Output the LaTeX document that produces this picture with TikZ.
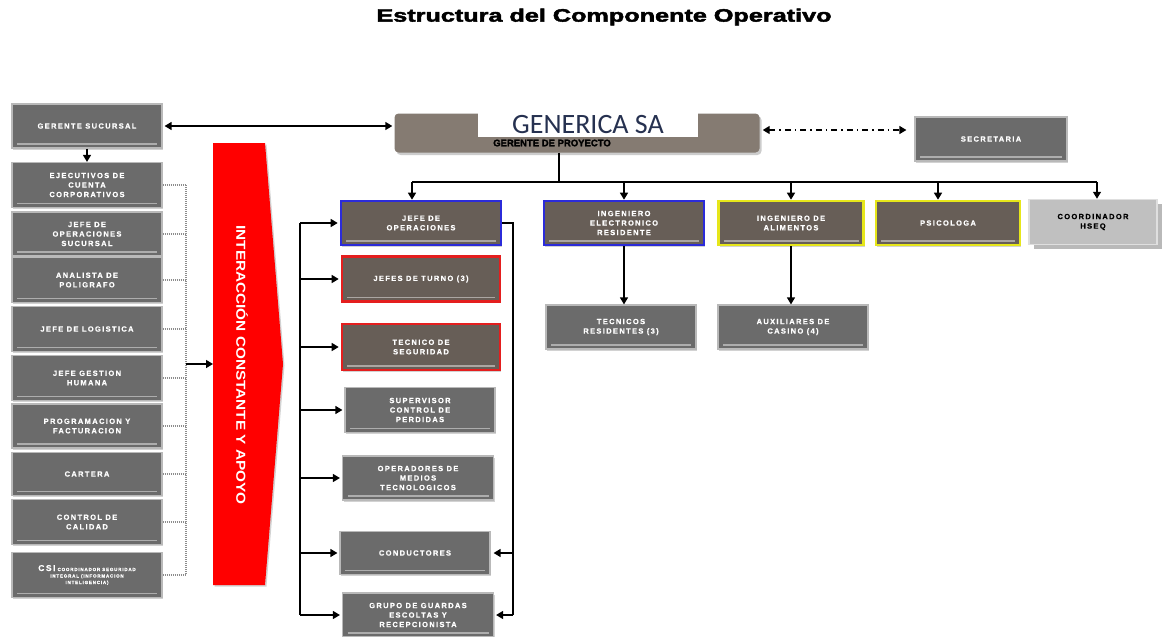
\documentclass[tikz,border=0pt]{standalone}
\usepackage{fontspec}
\setmainfont{Liberation Sans}
\newfontfamily\bxf[LetterSpace=18,FakeBold=0.6]{Liberation Sans}
\newfontfamily\titf[FakeBold=2.2]{Liberation Sans}
\newfontfamily\gpf[FakeBold=1.8]{Liberation Sans}
\newfontfamily\calf{Carlito}
\usetikzlibrary{arrows.meta,shadows}
\definecolor{bgray}{HTML}{6B6B6B}
\definecolor{bbrown}{HTML}{675E57}
\definecolor{genc}{HTML}{857B72}
\definecolor{bblue}{HTML}{2B2BD9}
\definecolor{bred}{HTML}{E41E1E}
\definecolor{byel}{HTML}{E6E61A}
\definecolor{lgray}{HTML}{C0C0C0}
\definecolor{redarr}{HTML}{FF0000}
\definecolor{dotc}{HTML}{8C8C8C}
\definecolor{navy}{HTML}{263150}
\tikzset{
  box/.style={rectangle, inner sep=1pt, align=center, text=white,
    font=\bxf\bfseries\fontsize{7.5}{9.5}\selectfont, draw=#1, line width=1.2pt,
    drop shadow={shadow xshift=1.2pt,shadow yshift=-1.5pt,opacity=.35},
    path picture={\draw[white,opacity=.45,line width=1.2pt]
      ([xshift=5pt,yshift=4pt]path picture bounding box.south west) --
      ([xshift=-5pt,yshift=4pt]path picture bounding box.south east);}},
  gbox/.style={box=gray!55, fill=bgray},
  cbox/.style={box=#1, fill=bbrown, line width=2.6pt},
  sz/.style 2 args={minimum width=#1pt, minimum height=#2pt},
  ln/.style={line width=1.4pt, black},
  arr/.style={ln, -{Triangle[length=7pt,width=8pt]}},
  darr/.style={ln, {Triangle[length=7pt,width=8pt]}-{Triangle[length=7pt,width=8pt]}},
  dotl/.style={dotc, line width=1.2pt, dash pattern=on 1pt off 1pt},
}
\begin{document}
\begin{tikzpicture}[x=1pt,y=-1pt]
\useasboundingbox (0,0) rectangle (1170,637);
\fill[white] (0,0) rectangle (1170,637);

% title
\node (title) at (604,17) {\titf\bfseries\fontsize{18}{18}\selectfont\scalebox{1.4}[1]{Estructura del Componente Operativo}};

% left column
\node[gbox, sz={150}{44}] (gs) at (87,126) {GERENTE SUCURSAL};
\node[gbox, sz={150}{45}] (ejec) at (87,185) {EJECUTIVOS DE\\CUENTA\\CORPORATIVOS};
\node[gbox, sz={150}{44}] (jos) at (87,234) {JEFE DE\\OPERACIONES\\SUCURSAL};
\node[gbox, sz={150}{45}] (ana) at (87,280) {ANALISTA DE\\POLIGRAFO};
\node[gbox, sz={150}{45}] (log) at (87,329) {JEFE DE LOGISTICA};
\node[gbox, sz={150}{45}] (gh) at (87,378) {JEFE GESTION\\HUMANA};
\node[gbox, sz={150}{44}] (prog) at (87,426) {PROGRAMACION Y\\FACTURACION};
\node[gbox, sz={150}{43}] (cart) at (87,474) {CARTERA};
\node[gbox, sz={150}{45}] (cc) at (87,522) {CONTROL DE\\CALIDAD};
\node[gbox, sz={150}{45}, font=\bxf\bfseries\fontsize{4.5}{6.5}\selectfont] (csi) at (87,575)
  {{\fontsize{8.5}{8.5}\selectfont CSI} COORDINADOR SEGURIDAD\\INTEGRAL (INFORMACION\\INTELIGENCIA)};

% dotted bus
\coordinate (db) at (186,0);
\foreach \n in {ejec,jos,ana,log,gh,prog,cart,cc,csi}
  \draw[dotl] (\n.east) -- (\n.east -| db);
\draw[dotl] (ejec.east -| db) -- (csi.east -| db);

% red arrow
\path[fill=redarr, drop shadow={shadow xshift=1.5pt,shadow yshift=-1.5pt,opacity=.35}]
  (213,143) -- (265,143) -- (283,364) -- (265,585) -- (213,585) -- cycle;
\node[rotate=-90, text=white, font=\bfseries\fontsize{13}{13}\selectfont] (ria) at (242,365) {\scalebox{1.18}[1]{INTERACCIÓN CONSTANTE Y APOYO}};
\coordinate (dbm) at (186,364);
\coordinate (redL) at (213,364);
\draw[arr] (dbm) -- (redL);

% GENERICA SA
\node[rectangle, rounded corners=4pt, fill=genc, sz={365}{39},
  drop shadow={shadow xshift=2pt,shadow yshift=-2.5pt,opacity=.4}] (gen) at (577,133) {};
\node[font=\gpf\bfseries\fontsize{9.5}{9.5}\selectfont, inner sep=0] (gp) at (552,143) {GERENTE DE PROYECTO};
\node[fill=white, sz={220}{24}, inner sep=0, text=navy, font=\calf\fontsize{28}{28}\selectfont] (gname) at (588,125) {GENERICA SA};

% secretaria
\node[gbox, sz={152}{44}] (sec) at (991,139) {SECRETARIA};

\draw[darr, shorten <=2pt, shorten >=2pt] (gs.east) -- (gs.east -| gen.west);
\draw[darr, dash pattern=on 6pt off 4pt on 1.5pt off 4pt, shorten <=3pt, shorten >=8pt] ([yshift=3pt]gen.east) -- ([yshift=3pt]gen.east -| sec.west);
\draw[arr] (gs.south) -- (ejec.north);

% second row
\node[cbox=bblue, sz={160}{44}] (jo) at (421,223) {JEFE DE\\OPERACIONES};
\node[cbox=bblue, sz={160}{44}] (ie) at (624,223) {INGENIERO\\ELECTRONICO\\RESIDENTE};
\node[cbox=byel, sz={145}{44}] (ia) at (791,223) {INGENIERO DE\\ALIMENTOS};
\node[cbox=byel, sz={144}{44}] (ps) at (948,223) {PSICOLOGA};
\node[rectangle, fill=lgray, draw=gray!25, line width=1.5pt, sz={128}{45}, align=center,
  font=\bxf\bfseries\fontsize{7.5}{9.5}\selectfont,
  drop shadow={shadow xshift=5pt,shadow yshift=-4pt,opacity=.55}] (co) at (1093,222) {COORDINADOR\\HSEQ};

% top bus
\coordinate (hub) at (559,182);
\coordinate (bL) at (412,182);
\coordinate (bR) at (1097,182);
\draw[ln] (hub |- gen.south) -- (hub);
\draw[ln] (bL) -- (bR);
\draw[arr] (bL) -- (bL |- jo.north);
\draw[arr] (ie.north |- hub) -- (ie.north);
\draw[arr] (ia.north |- hub) -- (ia.north);
\draw[arr] ([xshift=-10pt]ps.north |- hub) -- ([xshift=-10pt]ps.north);
\draw[arr] (bR) -- (bR |- co.north);

% third row
\node[gbox, sz={150}{44}] (tr) at (621,327) {TECNICOS\\RESIDENTES (3)};
\node[gbox, sz={150}{44}] (ac) at (793,327) {AUXILIARES DE\\CASINO (4)};
\draw[arr] (ie.south) -- (ie.south |- tr.north);
\draw[arr] (ia.south) -- (ia.south |- ac.north);

% middle column
\node[cbox=bred, sz={158}{45}] (jt) at (421,279) {JEFES DE TURNO (3)};
\node[cbox=bred, sz={158}{46}] (ts) at (421,347) {TECNICO DE\\SEGURIDAD};
\node[gbox, sz={150}{45}] (sup) at (420,410) {SUPERVISOR\\CONTROL DE\\PERDIDAS};
\node[gbox, sz={151}{44}] (op) at (418,478) {OPERADORES DE\\MEDIOS\\TECNOLOGICOS};
\node[gbox, sz={150}{43}] (cond) at (415,553) {CONDUCTORES};
\node[gbox, sz={151}{44}] (gg) at (418,615) {GRUPO DE GUARDAS\\ESCOLTAS Y\\RECEPCIONISTA};

\coordinate (lb) at (300,0);
\draw[ln] (jo.west -| lb) -- (gg.west -| lb);
\foreach \n in {jo,jt,ts,sup,op,cond,gg}
  \draw[arr, shorten >=2pt] (\n.west -| lb) -- (\n.west);
\coordinate (rb) at (513,0);
\draw[ln] (jo.east) -- (jo.east -| rb) -- (gg.east -| rb);
\draw[arr, shorten >=3pt] (cond.east -| rb) -- (cond.east);
\draw[arr, shorten >=2pt] (gg.east -| rb) -- (gg.east);
\end{tikzpicture}
\end{document}
